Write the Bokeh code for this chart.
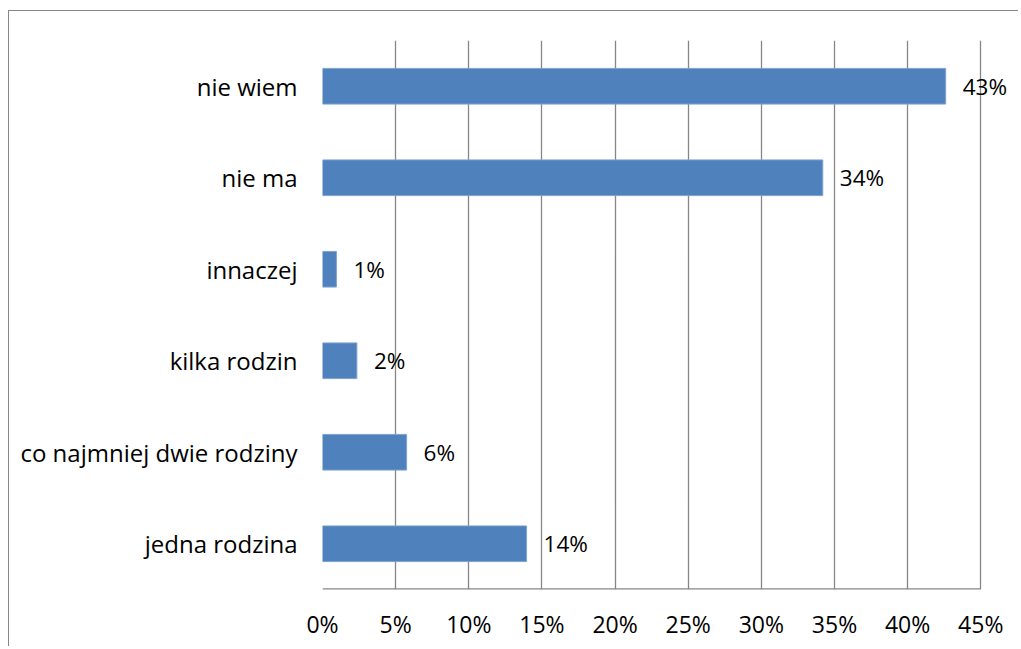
from bokeh.plotting import figure
from bokeh.models import ColumnDataSource, FactorRange, PrintfTickFormatter, FixedTicker, LabelSet
from bokeh.core.properties import value
from bokeh.embed import file_html
from bokeh.resources import INLINE

categories = ["jedna rodzina", "co najmniej dwie rodziny", "kilka rodzin", "innaczej", "nie ma", "nie wiem"]
values = [13.95, 5.75, 2.35, 0.95, 34.2, 42.6]
labels = ["14%", "6%", "2%", "1%", "34%", "43%"]
x_ticks = [0, 5, 10, 15, 20, 25, 30, 35, 40, 45]

FONT = "Open Sans"
GRID = "#868686"

src = ColumnDataSource(data=dict(cat=categories, val=values, lab=labels))

p = figure(width=1010, height=636, output_backend="svg", toolbar_location=None,
           y_range=FactorRange(*categories, range_padding=0), x_range=(0, 47.1),
           min_border_left=313, min_border_right=8, min_border_top=29, min_border_bottom=58,
           styles={"border-left": "1px solid #868686", "border-top": "1px solid #868686",
                   "margin-left": "8px", "margin-top": "10px"})

p.hbar(y="cat", right="val", height=0.39, source=src, fill_color="#4F81BD", line_color="#7FA3CF", line_width=1)
p.add_layout(LabelSet(x="val", y="cat", text="lab", source=src, x_offset=17, text_align="left",
                      text_baseline="middle", text_font=value(FONT), text_font_size="22.5px",
                      text_color="#000000"))

# bottom axis line from first to last tick (synthetic categorical coordinate 0 = bottom)
p.segment(x0=[x_ticks[0]], x1=[x_ticks[-1]], y0=[0], y1=[0], line_color=GRID, line_width=2.6)

p.outline_line_color = None
p.ygrid.grid_line_color = None
p.xgrid.ticker = FixedTicker(ticks=x_ticks)
p.xgrid.grid_line_color = GRID
p.xgrid.grid_line_width = 1.3

p.xaxis.ticker = FixedTicker(ticks=x_ticks)
p.xaxis.formatter = PrintfTickFormatter(format="%d%%")
p.xaxis.axis_line_color = None
p.xaxis.major_tick_line_color = None
p.xaxis.minor_tick_line_color = None
p.xaxis.major_label_standoff = 12
p.xaxis.major_label_text_font = FONT
p.xaxis.major_label_text_font_size = "23px"
p.xaxis.major_label_text_color = "#000000"

p.yaxis.axis_line_color = None
p.yaxis.major_tick_line_color = None
p.yaxis.minor_tick_line_color = None
p.yaxis.major_label_standoff = 19
p.yaxis.major_label_text_font = FONT
p.yaxis.major_label_text_font_size = "24px"
p.yaxis.major_label_text_color = "#000000"

open("out.html", "w").write(file_html(p, INLINE))
